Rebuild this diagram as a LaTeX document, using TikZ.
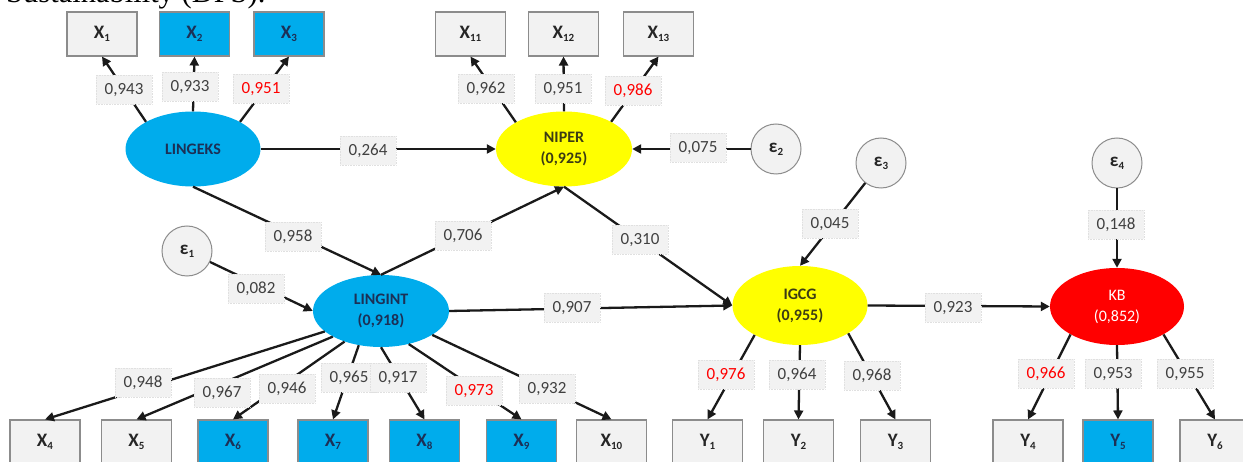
\documentclass[tikz,border=0pt]{standalone}
\usepackage{fontspec}
\setmainfont{Carlito}
\newfontfamily\serifx{Liberation Serif}
\usetikzlibrary{shapes.geometric,arrows.meta}
\definecolor{boxgray}{HTML}{F2F2F2}
\definecolor{boxline}{HTML}{8C8C8C}
\definecolor{blu}{RGB}{0,172,236}
\definecolor{yel}{RGB}{255,255,0}
\definecolor{rd}{RGB}{255,0,0}
\definecolor{navy}{RGB}{28,48,86}
\definecolor{olivex}{RGB}{60,60,20}
\definecolor{labtext}{HTML}{404040}
\definecolor{edgec}{HTML}{1A1A1A}
\newcommand{\lsub}[1]{\raisebox{-0.35ex}{\fontsize{11}{11}\selectfont #1}}
\tikzset{
 obs/.style={rectangle, draw=boxline, line width=1.1pt, fill=boxgray, minimum width=70pt, minimum height=44pt, inner sep=0pt, font=\fontsize{19}{19}\selectfont\bfseries, text=black!85},
 obsb/.style={obs, fill=blu, text=navy},
 lat/.style={ellipse, inner sep=0pt, align=center, font=\fontsize{16}{21}\selectfont\bfseries},
 err/.style={circle, draw=boxline, line width=1pt, fill=boxgray, minimum size=50pt, inner sep=0pt, font=\fontsize{19}{19}\selectfont\bfseries, text=black!85},
 lab/.style={fill=boxgray, draw=black!12, densely dotted, line width=0.6pt, minimum width=56pt, minimum height=29pt, inner sep=0pt, text=labtext, font=\fontsize{17}{17}\selectfont},
 labr/.style={lab, text=rd},
 con/.style={draw=edgec, line width=2.3pt, -{Triangle[length=9pt,width=9pt]}},
}
\begin{document}
\begin{tikzpicture}[x=1pt,y=-1pt]
\useasboundingbox (0,0) rectangle (1243,462);
\clip (0,0) rectangle (1243,462);
\node[anchor=base west, inner sep=0pt, font=\serifx\fontsize{30.5}{30.5}\selectfont] (cap) at (6,2.5) {Sustainability (DPS).};

% observed indicators top
\node[obs]  (X1)  at (102,34)   {X\lsub{1}};
\node[obsb] (X2)  at (194.5,34) {X\lsub{2}};
\node[obsb] (X3)  at (289,34)   {X\lsub{3}};
\node[obs]  (X11) at (470.5,34) {X\lsub{11}};
\node[obs]  (X12) at (563.5,34) {X\lsub{12}};
\node[obs]  (X13) at (658.5,34) {X\lsub{13}};
% bottom
\node[obs]  (X4)  at (45,442)    {X\lsub{4}};
\node[obs]  (X5)  at (136.5,442) {X\lsub{5}};
\node[obsb] (X6)  at (233,442)   {X\lsub{6}};
\node[obsb] (X7)  at (333,442)   {X\lsub{7}};
\node[obsb] (X8)  at (424.5,442) {X\lsub{8}};
\node[obsb] (X9)  at (521.5,442) {X\lsub{9}};
\node[obs]  (X10) at (611.5,442) {X\lsub{10}};
\node[obs]  (Y1)  at (707.5,442) {Y\lsub{1}};
\node[obs]  (Y2)  at (798.5,442) {Y\lsub{2}};
\node[obs]  (Y3)  at (895.5,442) {Y\lsub{3}};
\node[obs]  (Y4)  at (1028,442)  {Y\lsub{4}};
\node[obsb] (Y5)  at (1118,442)  {Y\lsub{5}};
\node[obs]  (Y6)  at (1215,442)  {Y\lsub{6}};

% latent variables
\node[lat, fill=blu, text=navy, minimum width=135pt, minimum height=75pt] (LINGEKS) at (193,149) {LINGEKS};
\node[lat, fill=yel, text=olivex, minimum width=136pt, minimum height=75pt] (NIPER) at (564,149) {NIPER\\(0,925)};
\node[lat, fill=blu, text=navy, minimum width=136pt, minimum height=72pt] (LINGINT) at (381,311) {LINGINT\\(0,918)};
\node[lat, fill=yel, text=olivex, minimum width=135pt, minimum height=79pt] (IGCG) at (800,305.5) {IGCG\\(0,955)};
\node[lat, fill=rd, text=white, minimum width=134pt, minimum height=77pt, font=\fontsize{16}{21}\selectfont] (KB) at (1117,306.5) {KB\\(0,852)};

% errors
\node[err] (e1) at (187,251) {ε\lsub{1}};
\node[err] (e2) at (776,149) {ε\lsub{2}};
\node[err] (e3) at (881,163) {ε\lsub{3}};
\node[err] (e4) at (1117,163) {ε\lsub{4}};

% loadings
\draw[con] (LINGEKS.150) -- (X1.south);
\draw[con] (LINGEKS.90) -- (X2.south);
\draw[con] (LINGEKS.30) -- (X3.south);
\draw[con] (NIPER.151) -- (X11.south);
\draw[con] (NIPER.90) -- (X12.south);
\draw[con] (NIPER.30) -- (X13.south);
\draw[con] (LINGINT.200) -- (X4.north);
\draw[con] (LINGINT.208) -- (X5.north);
\draw[con] (LINGINT.220) -- (X6.north);
\draw[con] (LINGINT.237) -- (X7.north);
\draw[con] (LINGINT.270) -- (X8.north);
\draw[con] (LINGINT.310) -- (X9.north);
\draw[con] (LINGINT.335) -- (X10.north);
\draw[con] (IGCG.213) -- (Y1.north);
\draw[con] (IGCG.270) -- (Y2.north);
\draw[con] (IGCG.330) -- (Y3.north);
\draw[con] (KB.211) -- (Y4.north);
\draw[con] (KB.270) -- (Y5.north);
\draw[con] (KB.329) -- (Y6.north);

% structural paths
\draw[con] (LINGEKS.east) -- (NIPER.west);
\draw[con] (e2) -- (NIPER.east);
\draw[con] (LINGEKS.south) -- (LINGINT.north);
\draw[con] (LINGINT.north) -- (NIPER.south);
\draw[con] (NIPER.south) -- (IGCG.west);
\draw[con] (LINGINT.east) -- (IGCG.west);
\draw[con] (e1) -- (LINGINT.west);
\draw[con] (e3) -- (IGCG.north);
\draw[con] (e4) -- (KB.north);
\draw[con] (IGCG.east) -- (KB.west);

% labels
\node[lab]  (l943)  at (124,90)  {0,943};
\node[lab]  (l933)  at (190,87)  {0,933};
\node[labr] (l951a) at (261,89)  {0,951};
\node[lab]  (l264)  at (368,151) {0,264};
\node[lab]  (l962)  at (486,89)  {0,962};
\node[lab]  (l951b) at (563,89)  {0,951};
\node[labr] (l986)  at (633,91)  {0,986};
\node[lab]  (l075)  at (698,148) {0,075};
\node[lab]  (l958)  at (293,237) {0,958};
\node[lab]  (l082)  at (256,289) {0,082};
\node[lab]  (l706)  at (463,236) {0,706};
\node[lab]  (l310)  at (640,240) {0,310};
\node[lab]  (l045)  at (830,224) {0,045};
\node[lab]  (l148)  at (1116,225) {0,148};
\node[lab]  (l907)  at (572,308) {0,907};
\node[lab]  (l923)  at (953,308) {0,923};
\node[lab]  (l948)  at (143,383) {0,948};
\node[lab]  (l967)  at (222,393) {0,967};
\node[lab]  (l946)  at (287,389) {0,946};
\node[lab]  (l965)  at (349,378) {0,965};
\node[lab]  (l917)  at (398,378) {0,917};
\node[labr] (l973)  at (474,391) {0,973};
\node[lab]  (l932)  at (547,389) {0,932};
\node[labr] (l976)  at (726,375) {0,976};
\node[lab]  (l964)  at (797,375) {0,964};
\node[lab]  (l968)  at (872,376) {0,968};
\node[labr] (l966)  at (1046,374) {0,966};
\node[lab]  (l953)  at (1113,374) {0,953};
\node[lab]  (l955)  at (1185,374) {0,955};
\end{tikzpicture}
\end{document}
